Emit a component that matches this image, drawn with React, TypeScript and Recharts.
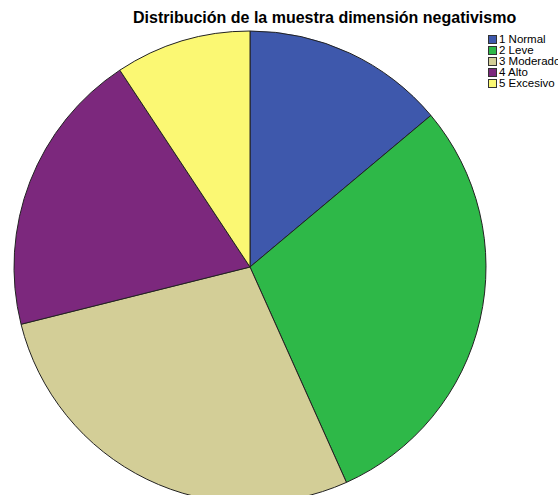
import { PieChart, Pie, Cell, Legend } from 'recharts';

const categories = ['1 Normal', '2 Leve', '3 Moderado', '4 Alto', '5 Excesivo'];
const percents = [13.9, 29.4, 27.8, 19.6, 9.3];
const colors = ['#3e58ac', '#2eb848', '#d3ce97', '#7c287d', '#fbf873'];

const data = categories.map((name, i) => ({ name, value: percents[i] }));

function LegendBox() {
  return (
    <div style={{ fontFamily: 'Liberation Sans, Arial, sans-serif', fontSize: 11.5, lineHeight: '11px', color: '#000' }}>
      {categories.map((c, i) => (
        <div key={c} style={{ display: 'flex', alignItems: 'center', whiteSpace: 'nowrap', height: 11.1 }}>
          <span
            style={{
              display: 'inline-block',
              width: 9,
              height: 9,
              background: colors[i],
              border: '1px solid #333',
              boxSizing: 'border-box',
              marginRight: 2,
              flexShrink: 0,
            }}
          />
          {c}
        </div>
      ))}
    </div>
  );
}

export default function App() {
  return (
    <div style={{ position: 'absolute', left: 0, top: 0, width: 558, height: 495, background: '#fff', overflow: 'hidden' }}>
      <div
        style={{
          position: 'absolute',
          left: 133,
          top: 9,
          whiteSpace: 'nowrap',
          fontFamily: 'Liberation Sans, Arial, sans-serif',
          fontWeight: 'bold',
          fontSize: 16,
          color: '#000',
        }}
      >
        Distribución de la muestra dimensión negativismo
      </div>
      <PieChart width={558} height={495} margin={{ top: 0, right: 0, bottom: 0, left: 0 }}>
        <Pie
          data={data}
          dataKey="value"
          nameKey="name"
          cx={250}
          cy={267}
          outerRadius={236}
          startAngle={90}
          endAngle={-270}
          stroke="#222"
          strokeWidth={1}
          isAnimationActive={false}
        >
          {data.map((d, i) => (
            <Cell key={d.name} fill={colors[i]} />
          ))}
        </Pie>
        <Legend
          layout="vertical"
          align="right"
          verticalAlign="top"
          content={() => <LegendBox />}
          wrapperStyle={{ position: 'absolute', left: 488, top: 34, width: 80 }}
        />
      </PieChart>
    </div>
  );
}
